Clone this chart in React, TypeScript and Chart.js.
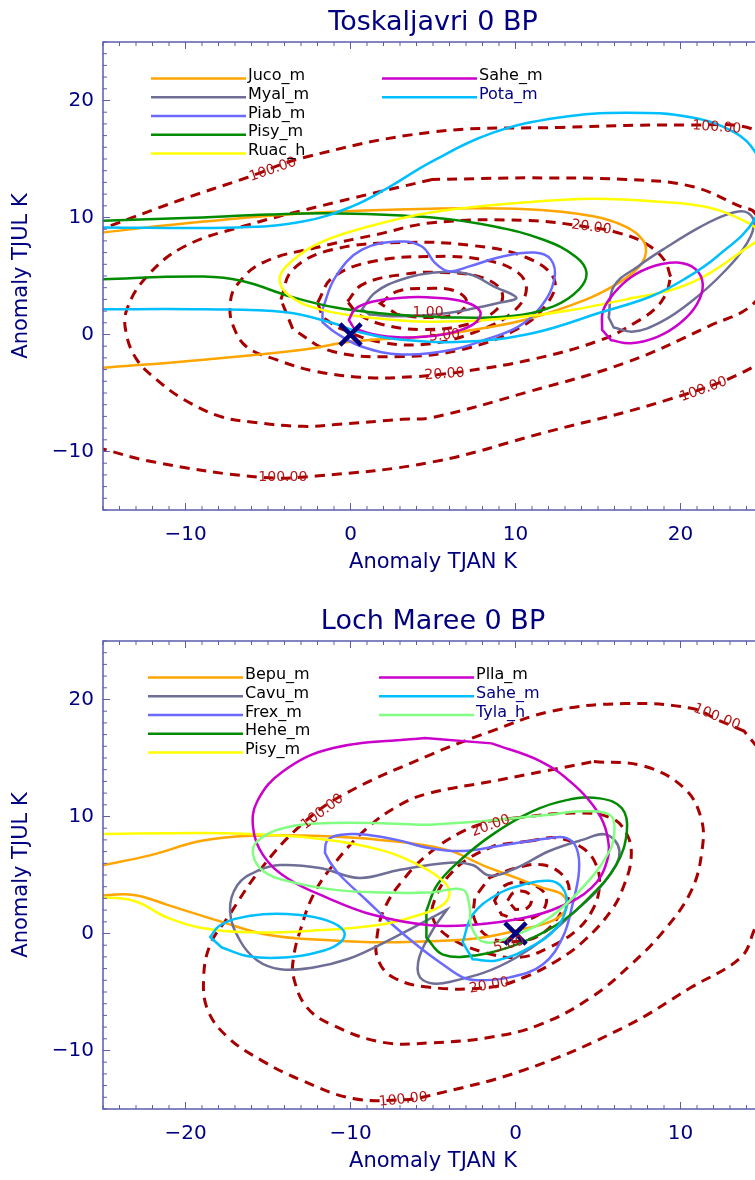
import React, { useEffect, useRef } from 'react';
import { Chart, registerables } from 'chart.js';

Chart.register(...registerables);

type Pt = [number, number];

// ---------------- TOP PANEL DATA (Toskaljavri 0 BP) ----------------
const TOP_TITLE = 'Toskaljavri 0 BP';
const TOP_X_RANGE: Pt = [-15, 25];
const TOP_Y_RANGE: Pt = [-15, 25];
const TOP_X_TICKS = [-10, 0, 10, 20];
const TOP_Y_TICKS = [-10, 0, 10, 20];

const TOP_JUCO_M: Pt[] = [[-15.5, 8.65], [-8.9, 9.65], [-2.9, 10.35], [4.9, 10.75], [10.7, 10.7], [14.7, 10.1], [16.7, 9.2], [17.7, 8.1], [17.9, 7.0], [17.5, 5.8], [16.3, 4.45], [14.3, 3.0], [10.7, 1.3], [7.65, 0.45], [4.6, -0.15], [0.1, -0.6], [-2.9, -1.3], [-8.9, -2.15], [-15.5, -2.9]];
const TOP_MYAL_M_A: Pt[] = [[0.7, 2.15], [1.5, 3.6], [3.1, 4.7], [5.1, 5.3], [7.2, 5.15], [8.7, 4.1], [10.05, 3.15], [9.15, 2.75], [7.2, 2.15], [5.1, 1.7], [3.1, 1.55], [1.15, 1.7]];
const TOP_MYAL_M_B: Pt[] = [[15.65, 1.45], [15.95, 4.1], [17.4, 5.8], [19.2, 7.5], [21.2, 9.2], [22.8, 10.25], [23.9, 10.5], [24.45, 9.65], [24.05, 7.85], [22.6, 5.3], [20.6, 2.75], [18.8, 1.05], [17.15, 0.25], [15.95, 0.6]];
const TOP_PIAB_M: Pt[] = [[-1.7, 2.15], [-0.9, 4.95], [0.7, 7.25], [3.1, 7.95], [4.35, 7.5], [5.1, 6.15], [5.95, 5.4], [7.15, 5.8], [9.15, 6.65], [11.15, 7.0], [12.15, 6.4], [12.35, 4.7], [11.55, 2.4], [10.2, 0.7], [8.15, -0.45], [6.15, -1.3], [3.1, -1.7], [0.7, -1.05], [-0.9, 0.15], [-1.7, 1.05]];
const TOP_PISY_M: Pt[] = [[-15.5, 9.7], [-10, 9.95], [-4.9, 10.25], [-0.9, 10.35], [4.95, 10.0], [8.65, 9.25], [11.7, 8.1], [13.65, 6.65], [14.3, 5.3], [13.85, 3.85], [12.3, 2.4], [9.65, 1.55], [6.65, 1.45], [4.65, 1.55], [1.95, 1.8], [-0.9, 2.3], [-3.65, 3.25], [-6.5, 4.55], [-8.9, 4.95], [-15.5, 4.7]];
const TOP_RUAC_H: Pt[] = [[24.5, 7.85], [20.7, 4.45], [16.7, 3.0], [10.65, 1.55], [4.95, 1.1], [1.15, 1.45], [-1.85, 2.15], [-3.65, 3.25], [-4.3, 4.7], [-3.65, 6.15], [-1.85, 7.85], [1.15, 9.25], [4.95, 10.45], [10.65, 11.3], [14.7, 11.6], [18.65, 11.35], [21.7, 10.85], [24.1, 9.55], [25.0, 8.6]];
const TOP_SAHE_M_A: Pt[] = [[-0.1, 1.25], [0.3, 2.2], [1.3, 2.8], [3.1, 3.15], [5.1, 3.15], [6.9, 2.8], [7.85, 2.0], [7.6, 1.05], [6.5, 0.3], [5.1, -0.1], [3.1, -0.25], [1.3, 0.05], [0.2, 0.55]];
const TOP_SAHE_M_B: Pt[] = [[15.25, 0.4], [15.3, 2.0], [15.95, 3.5], [17.0, 4.9], [18.4, 5.85], [19.8, 6.15], [20.9, 5.6], [21.35, 4.3], [21.0, 2.6], [20.0, 1.0], [18.6, -0.2], [17.0, -0.75], [15.8, -0.5]];
const TOP_POTA_M: Pt[] = [[-15.5, 9.15], [-6.9, 9.15], [-2.9, 9.65], [0.1, 10.95], [2.1, 12.4], [4.95, 14.8], [8.65, 17.25], [12.65, 18.55], [16.7, 18.95], [20.7, 18.55], [23.3, 17.25], [24.5, 15.65], [25.1, 13.25], [24.5, 9.85], [22.2, 6.65], [20.2, 4.7], [18.2, 3.25], [15.2, 1.9], [11.15, 0.15], [7.15, -0.6], [3.1, -0.45], [0.7, 0.15], [-1.25, 1.05], [-3.9, 1.9], [-8.9, 2.15], [-15.5, 2.15]];

const TOP_C100: Pt[] = [[-15.5, 8.8], [-10.4, 11.45], [-6.3, 13.4], [-2.9, 15.1], [4.95, 17.3], [12.8, 17.7], [20.5, 17.9], [24.5, 17.5], [26.5, 15], [27.5, 7], [26.5, 0], [24.5, -2.7], [19.3, -5.55], [11.7, -8.4], [4.95, -10.9], [-2.1, -12.1], [-5.5, -12.2], [-11.9, -10.9], [-15.5, -9.6]];
const TOP_C50: Pt[] = [[4.95, 13.25], [-0.9, 11.3], [-6.5, 9.25], [-10.1, 7.5], [-12.35, 4.95], [-13.55, 2.15], [-13.6, 0.15], [-12.95, -2.15], [-11.75, -3.85], [-10.1, -5.55], [-7.9, -7.0], [-5.9, -7.5], [-2.9, -7.85], [-0.9, -7.7], [3.15, -7.25], [4.95, -7.1], [10.65, -4.95], [16.7, -2.4], [21.7, 0.7], [24.5, 2.75], [25.8, 6.5], [24.5, 10.4], [23.7, 10.9], [20.7, 12.65], [16.7, 13.25], [10.65, 13.4]];
const TOP_C20: Pt[] = [[19.4, 4.95], [19.0, 6.4], [17.8, 7.85], [16.2, 8.7], [14.6, 9.15], [10.65, 9.75], [4.95, 9.55], [1.6, 8.55], [-1.85, 7.5], [-5.3, 6.15], [-6.95, 4.1], [-7.3, 2.4], [-7.1, 0.7], [-6.3, -1.05], [-4.5, -2.15], [-2.1, -3.15], [1.15, -3.7], [3.9, -3.6], [5.5, -3.4], [6.9, -3.15], [10.95, -2.15], [15.2, -0.45], [17.6, 1.3], [18.6, 2.4], [19.2, 3.6]];
const TOP_C10: Pt[] = [[-4.22, 2.99], [-3.49, 5.56], [-1.08, 7.26], [3.13, 7.86], [7.35, 7.61], [10.66, 6.58], [12.35, 4.7], [11.87, 2.56], [10.06, 0.43], [6.75, -1.28], [3.13, -1.88], [-1.08, -1.45], [-3.49, 0.43]];
const TOP_C5: Pt[] = [[-1.99, 2.74], [-1.08, 4.87], [1.33, 6.24], [4.94, 6.67], [7.95, 6.41], [10.06, 5.38], [10.66, 3.85], [9.88, 1.97], [7.95, 0.43], [4.94, -0.77], [1.93, -0.68], [-0.48, 0.43], [-1.69, 1.45]];
const TOP_C2: Pt[] = [[-0.18, 2.82], [0.72, 4.27], [3.13, 5.13], [5.54, 5.3], [7.95, 4.87], [9.16, 3.68], [8.86, 2.14], [7.05, 0.85], [4.34, 0.43], [1.93, 0.85], [0.42, 1.71]];
const TOP_C1: Pt[] = [[1.81, 2.65], [2.83, 3.68], [4.64, 3.93], [6.27, 3.76], [7.05, 2.82], [6.45, 1.79], [4.64, 1.45], [2.83, 1.71]];

const TOP_LABEL_TEXT = ['100.00', '100.00', '100.00', '100.00', '20.00', '20.00', '1.00', '5.00'];
const TOP_LABEL_POS: Pt[] = [[-4.7, 14.1], [22.2, 17.7], [-4.1, -12.25], [21.4, -4.7], [14.6, 9.15], [5.7, -3.4], [4.7, 1.9], [5.7, -0.1]];
const TOP_LABEL_ANGLE = [-19, 4, 0, -20, 8, -4, 0, -5];

// ---------------- BOTTOM PANEL DATA (Loch Maree 0 BP) ----------------
const BOT_TITLE = 'Loch Maree 0 BP';
const BOT_X_RANGE: Pt = [-25, 15];
const BOT_Y_RANGE: Pt = [-15, 25];
const BOT_X_TICKS = [-20, -10, 0, 10];
const BOT_Y_TICKS = [-10, 0, 10, 20];

const BOT_BEPU_M: Pt[] = [[-25.5, 5.7], [-22.1, 6.7], [-19.1, 7.9], [-16.05, 8.35], [-12.25, 8.35], [-8.2, 8.0], [-4.15, 7.15], [-2.0, 5.85], [0.05, 4.75], [1.65, 3.9], [2.85, 3.3], [3.1, 2.2], [2.25, 1.1], [0.05, 0.25], [-2.0, -0.35], [-4.0, -0.6], [-8.05, -0.75], [-11.05, -0.6], [-15.05, -0.1], [-18.05, 1.1], [-21.1, 2.45], [-23.15, 3.3], [-25.5, 3.2]];
const BOT_CAVU_M: Pt[] = [[-4.15, 2.05], [-5.1, 0.1], [-5.9, -2.45], [-5.6, -4.0], [-4.0, -4.15], [0.05, -2.05], [4.05, 2.45], [5.7, 5.0], [6.3, 7.05], [5.5, 8.45], [4.05, 8.0], [2.05, 7.05], [0.05, 5.6], [-1.55, 4.95], [-2.6, 5.85], [-4.0, 6.05], [-7.0, 5.45], [-9.45, 4.75], [-11.85, 5.6], [-14.25, 5.85], [-15.65, 5.35], [-16.85, 4.15], [-17.3, 1.95], [-16.7, -0.6], [-15.65, -2.3], [-14.25, -3.05], [-12.25, -2.9], [-10.2, -2.2], [-8.2, -0.95], [-6.2, 0.5]];
const BOT_FREX_M: Pt[] = [[-11.55, 6.9], [-11.45, 7.85], [-10.9, 8.35], [-10.0, 8.5], [-9.0, 8.45], [-7.2, 8.0], [-5.2, 7.3], [-3.2, 7.05], [-0.95, 7.5], [2.05, 8.15], [3.1, 8.15], [3.7, 7.3], [3.85, 5.35], [3.45, 2.45], [2.85, -0.35], [1.65, -2.65], [-0.35, -3.75], [-2.35, -4.0], [-3.2, -3.75], [-4.4, -2.65], [-5.8, -1.2], [-7.45, 0.75], [-9.0, 2.8], [-10.65, 5.0], [-11.25, 6.1]];
const BOT_HEHE_M: Pt[] = [[-5.4, 1.95], [-4.75, 4.15], [-3.4, 6.2], [-1.4, 8.45], [1.05, 10.45], [3.1, 11.4], [5.1, 11.55], [6.45, 10.7], [6.75, 8.75], [6.1, 5.85], [4.45, 3.05], [2.5, 0.75], [0.05, -0.95], [-2.35, -1.85], [-4.4, -1.8], [-5.4, -0.35]];
const BOT_PISY_M: Pt[] = [[-25.5, 8.5], [-19.1, 8.6], [-16.05, 8.5], [-12.25, 8.15], [-8.2, 7.15], [-5.8, 5.8], [-4.4, 4.5], [-4.0, 3.5], [-4.4, 2.45], [-5.8, 1.6], [-8.2, 0.75], [-12.25, 0.25], [-16.05, 0.1], [-19.1, 0.5], [-21.1, 1.35], [-23.15, 2.8], [-25.5, 3.1]];
const BOT_PLLA_M: Pt[] = [[-5.5, 16.7], [-11.05, 15.85], [-14.1, 13.85], [-15.65, 11.3], [-15.9, 9.0], [-15.3, 6.7], [-13.85, 4.75], [-11.4, 3.05], [-8.65, 1.6], [-5.2, 0.7], [-2.5, 0.75], [0.55, 1.35], [2.55, 2.2], [4.6, 3.9], [5.55, 6.2], [5.55, 8.45], [4.95, 10.45], [3.55, 12.7], [1.55, 14.7], [-1.45, 16.25]];
const BOT_SAHE_M_A: Pt[] = [[-18.5, -0.3], [-18.0, 0.6], [-17.0, 1.25], [-15.3, 1.65], [-13.25, 1.6], [-11.4, 1.1], [-10.4, 0.2], [-10.6, -0.75], [-12.0, -1.6], [-14.0, -2.05], [-16.2, -1.95], [-17.8, -1.2]];
const BOT_SAHE_M_B: Pt[] = [[-3.2, -0.75], [-2.6, 1.6], [-1.15, 3.3], [0.4, 4.15], [2.05, 4.5], [2.85, 3.9], [3.1, 2.45], [2.5, 0.5], [0.85, -1.2], [-1.15, -2.3], [-2.6, -2.2]];
const BOT_TYLA_H: Pt[] = [[-5.2, 9.3], [-11.05, 9.45], [-14.1, 9.0], [-15.65, 7.9], [-15.9, 6.7], [-15.3, 5.35], [-13.85, 4.5], [-11.05, 3.75], [-8.05, 3.5], [-5.2, 3.5], [-3.2, 3.75], [-2.8, 2.45], [-2.65, 0.5], [-1.85, -0.75], [0.05, -0.1], [2.05, 1.35], [4.05, 3.9], [5.7, 7.05], [6.0, 9.0], [5.7, 10.15], [4.05, 10.45], [2.05, 10.15], [-2.0, 9.6]];

const BOT_C100: Pt[] = [[13.85, 17.3], [12.35, 18.2], [10.65, 19.25], [6.6, 19.65], [2.2, 19.0], [-1.45, 17.3], [-5.2, 15.25], [-10.45, 11.85], [-13.05, 9.2], [-15.5, 5.4], [-17.45, 1.35], [-18.5, -0.95], [-18.9, -3.75], [-18.65, -6.55], [-17.45, -8.85], [-15.45, -10.8], [-13.05, -12.5], [-9.85, -14.1], [-6.7, -14.2], [-5.5, -13.95], [0.55, -11.65], [6.6, -8.0], [10.65, -4.6], [13.65, -2.05], [14.45, 0.25], [16.0, 6.0], [15.8, 14.0]];
const BOT_C50: Pt[] = [[4.75, 14.7], [7.8, 14.3], [10.2, 12.45], [11.25, 9.85], [11.3, 7.05], [10.65, 3.65], [9.0, 0.25], [7.0, -2.65], [4.6, -5.45], [1.55, -7.75], [-1.45, -8.85], [-5.2, -9.35], [-8.05, -9.3], [-11.05, -7.85], [-12.65, -6.3], [-13.45, -3.75], [-13.45, -2.05], [-13.05, 0.25], [-12.25, 3.3], [-11.05, 5.85], [-9.0, 9.0], [-7.0, 11.0], [-5.2, 12.0], [-1.45, 13.0], [0.55, 13.55]];
const BOT_C20: Pt[] = [[-0.06, 9.87], [3.56, 10.3], [5.8, 9.87], [6.77, 8.43], [7.01, 6.47], [6.59, 4.17], [5.8, 1.96], [4.17, -0.6], [2.54, -2.3], [0.54, -3.74], [-1.57, -4.6], [-5.2, -4.6], [-7.43, -3.74], [-8.34, -2.21], [-8.4, -0.34], [-7.92, 2.21], [-6.7, 4.77], [-5.2, 6.89], [-3.38, 8.6], [-1.57, 9.62]];
const BOT_C10: Pt[] = [[0.85, 7.9], [2.48, 8.17], [4.05, 7.32], [4.89, 5.87], [5.08, 3.91], [4.65, 1.96], [3.69, 0.26], [2.05, -1.19], [0.24, -2.04], [-1.87, -1.62], [-3.99, -0.34], [-5.02, 1.36], [-4.77, 3.32], [-3.99, 5.02], [-2.78, 6.47], [-1.15, 7.57]];
const BOT_C5: Pt[] = [[-1.57, 4.77], [0.06, 5.62], [1.63, 5.87], [2.84, 5.02], [3.26, 3.66], [2.84, 1.96], [1.63, 0.0], [0.06, -0.68], [-1.57, -0.34], [-2.48, 1.19], [-2.48, 3.06]];
const BOT_C2: Pt[] = [[-1.27, 2.81], [-0.66, 4.09], [0.54, 4.34], [1.63, 3.66], [1.87, 2.64], [1.33, 1.53], [0.24, 1.19], [-0.85, 1.62]];
const BOT_C1: Pt[] = [[-0.48, 2.81], [-0.12, 3.49], [0.6, 3.57], [0.97, 2.98], [0.73, 2.21], [0.0, 2.04]];

const BOT_LABEL_TEXT = ['100.00', '100.00', '100.00', '20.00', '20.00', '5.00'];
const BOT_LABEL_POS: Pt[] = [[-11.7, 10.4], [12.2, 18.5], [-6.8, -14.2], [-1.5, 9.2], [-1.6, -4.45], [-0.4, -0.95]];
const BOT_LABEL_ANGLE = [-37, 22, -6, -20, -10, -15];

// ---------------- STYLE ----------------
const FONT = "'DejaVu Sans', 'Liberation Sans', sans-serif";
const NAVY = '#000080';
const FRAME = '#5c5cae';
const CONTOUR = '#a80000';
const CONTOUR_TEXT = '#b41414';
const C_ORANGE = '#ffa500';
const C_SLATE = '#6e6e96';
const C_BLUE = '#6a6aff';
const C_GREEN = '#008b00';
const C_YELLOW = '#ffff00';
const C_MAGENTA = '#cc00cc';
const C_CYAN = '#00bfff';
const C_LGREEN = '#80ff80';

interface SeriesDef { name: string; color: string; textColor: string; parts: Pt[][]; closed: boolean[] }
interface PanelDef {
  title: string; xRange: Pt; yRange: Pt; xTicks: number[]; yTicks: number[];
  series: SeriesDef[]; legendCols: number[]; contours: { pts: Pt[]; closed: boolean }[];
  labelText: string[]; labelPos: Pt[]; labelAngle: number[]; legendX: number;
}

const TOP_PANEL: PanelDef = {
  title: TOP_TITLE, xRange: TOP_X_RANGE, yRange: TOP_Y_RANGE, xTicks: TOP_X_TICKS, yTicks: TOP_Y_TICKS,
  series: [
    { name: 'Juco_m', color: C_ORANGE, textColor: '#000', parts: [TOP_JUCO_M], closed: [false] },
    { name: 'Myal_m', color: C_SLATE, textColor: '#000', parts: [TOP_MYAL_M_A, TOP_MYAL_M_B], closed: [true, true] },
    { name: 'Piab_m', color: C_BLUE, textColor: '#000', parts: [TOP_PIAB_M], closed: [true] },
    { name: 'Pisy_m', color: C_GREEN, textColor: '#000', parts: [TOP_PISY_M], closed: [false] },
    { name: 'Ruac_h', color: C_YELLOW, textColor: '#000', parts: [TOP_RUAC_H], closed: [true] },
    { name: 'Sahe_m', color: C_MAGENTA, textColor: '#000', parts: [TOP_SAHE_M_A, TOP_SAHE_M_B], closed: [true, true] },
    { name: 'Pota_m', color: C_CYAN, textColor: NAVY, parts: [TOP_POTA_M], closed: [false] },
  ],
  legendCols: [5, 2],
  contours: [
    { pts: TOP_C100, closed: false }, { pts: TOP_C50, closed: true }, { pts: TOP_C20, closed: true },
    { pts: TOP_C10, closed: true }, { pts: TOP_C5, closed: true }, { pts: TOP_C2, closed: true }, { pts: TOP_C1, closed: true },
  ],
  labelText: TOP_LABEL_TEXT, labelPos: TOP_LABEL_POS, labelAngle: TOP_LABEL_ANGLE, legendX: 48,
};

const BOT_PANEL: PanelDef = {
  title: BOT_TITLE, xRange: BOT_X_RANGE, yRange: BOT_Y_RANGE, xTicks: BOT_X_TICKS, yTicks: BOT_Y_TICKS,
  series: [
    { name: 'Bepu_m', color: C_ORANGE, textColor: '#000', parts: [BOT_BEPU_M], closed: [false] },
    { name: 'Cavu_m', color: C_SLATE, textColor: '#000', parts: [BOT_CAVU_M], closed: [true] },
    { name: 'Frex_m', color: C_BLUE, textColor: '#000', parts: [BOT_FREX_M], closed: [true] },
    { name: 'Hehe_m', color: C_GREEN, textColor: '#000', parts: [BOT_HEHE_M], closed: [true] },
    { name: 'Pisy_m', color: C_YELLOW, textColor: '#000', parts: [BOT_PISY_M], closed: [false] },
    { name: 'Plla_m', color: C_MAGENTA, textColor: '#000', parts: [BOT_PLLA_M], closed: [true] },
    { name: 'Sahe_m', color: C_CYAN, textColor: NAVY, parts: [BOT_SAHE_M_A, BOT_SAHE_M_B], closed: [true, true] },
    { name: 'Tyla_h', color: C_LGREEN, textColor: NAVY, parts: [BOT_TYLA_H], closed: [true] },
  ],
  legendCols: [5, 3],
  contours: [
    { pts: BOT_C100, closed: true }, { pts: BOT_C50, closed: true }, { pts: BOT_C20, closed: true },
    { pts: BOT_C10, closed: true }, { pts: BOT_C5, closed: true }, { pts: BOT_C2, closed: true }, { pts: BOT_C1, closed: true },
  ],
  labelText: BOT_LABEL_TEXT, labelPos: BOT_LABEL_POS, labelAngle: BOT_LABEL_ANGLE, legendX: 45,
};

const toXY = (pts: Pt[]) => pts.map(([x, y]) => ({ x, y }));
const fmtTick = (v: number) => (v < 0 ? '\u2212' + Math.abs(v) : String(v));

// closes smooth loops for datasets flagged "closed"
const loopPlugin = {
  id: 'loopLines',
  beforeDatasetsDraw(chart: any) {
    chart.data.datasets.forEach((ds: any, i: number) => {
      if (!ds.closedLoop) return;
      const line = chart.getDatasetMeta(i).dataset;
      if (!line) return;
      line._loop = true;
      line._fullLoop = true;
      delete line._segments;
      delete line._path;
      line._pointsUpdated = false;
    });
  },
};

function makePanelPlugin(p: PanelDef) {
  return {
    id: 'panelDecor',
    afterDatasetsDraw(chart: any) {
      const { ctx, chartArea: a, scales } = chart;
      const xs = scales.x, ys = scales.y;
      ctx.save();
      // contour labels
      ctx.fillStyle = CONTOUR_TEXT;
      ctx.font = `14px ${FONT}`;
      ctx.textAlign = 'center';
      ctx.textBaseline = 'middle';
      p.labelText.forEach((t, i) => {
        const px = xs.getPixelForValue(p.labelPos[i][0]);
        const py = ys.getPixelForValue(p.labelPos[i][1]);
        ctx.save();
        ctx.translate(px, py);
        ctx.rotate((p.labelAngle[i] * Math.PI) / 180);
        ctx.fillText(t, 0, 0);
        ctx.restore();
      });
      // frame
      ctx.strokeStyle = FRAME;
      ctx.lineWidth = 1.5;
      ctx.strokeRect(a.left, a.top, a.right - a.left, a.bottom - a.top);
      ctx.lineWidth = 1;
      ctx.beginPath();
      for (let v = Math.ceil(p.xRange[0]); v <= p.xRange[1]; v++) {
        const px = xs.getPixelForValue(v);
        const len = v % 10 === 0 ? 7 : 4;
        ctx.moveTo(px, a.bottom); ctx.lineTo(px, a.bottom - len);
        ctx.moveTo(px, a.top); ctx.lineTo(px, a.top + len);
      }
      for (let v = Math.ceil(p.yRange[0]); v <= p.yRange[1]; v++) {
        const py = ys.getPixelForValue(v);
        const len = v % 10 === 0 ? 7 : 4;
        ctx.moveTo(a.left, py); ctx.lineTo(a.left + len, py);
        ctx.moveTo(a.right, py); ctx.lineTo(a.right - len, py);
      }
      ctx.stroke();
      // legend
      let k = 0;
      ctx.font = `16px ${FONT}`;
      ctx.textAlign = 'left';
      ctx.textBaseline = 'alphabetic';
      p.legendCols.forEach((n, col) => {
        for (let r = 0; r < n; r++, k++) {
          const s = p.series[k];
          const x0 = a.left + p.legendX + col * 231;
          const y0 = a.top + 36.5 + r * 18.75;
          ctx.strokeStyle = s.color;
          ctx.lineWidth = 2.5;
          ctx.beginPath();
          ctx.moveTo(x0, y0); ctx.lineTo(x0 + 95, y0);
          ctx.stroke();
          ctx.fillStyle = s.textColor;
          ctx.fillText(s.name, x0 + 97, y0 + 1.5);
        }
      });
      // title
      ctx.fillStyle = NAVY;
      ctx.font = `27px ${FONT}`;
      ctx.textAlign = 'center';
      ctx.fillText(p.title, (a.left + a.right) / 2, a.top - 12);
      ctx.restore();
    },
  };
}

function buildConfig(p: PanelDef): any {
  const datasets: any[] = [];
  datasets.push({
    data: [{ x: 0, y: 0 }], showLine: false, pointStyle: 'crossRot', pointRadius: 15,
    pointBorderWidth: 4.5, pointBorderColor: NAVY, pointBackgroundColor: NAVY,
  });
  [...p.series].reverse().forEach((s) => {
    s.parts.forEach((pts, j) => {
      datasets.push({
        label: s.name, data: toXY(pts), showLine: true, closedLoop: s.closed[j],
        borderColor: s.color, borderWidth: 2.5, pointRadius: 0, tension: 0.4,
        capBezierPoints: false, fill: false,
      });
    });
  });
  p.contours.forEach((c) => {
    datasets.push({
      data: toXY(c.pts), showLine: true, closedLoop: c.closed, borderColor: CONTOUR,
      borderWidth: 3, borderDash: [10, 7], pointRadius: 0, tension: 0.4,
      capBezierPoints: false, fill: false,
    });
  });
  const tickFont = { family: FONT, size: 20 };
  const titleFont = { family: FONT, size: 21 };
  return {
    type: 'scatter',
    data: { datasets },
    options: {
      animation: false, responsive: false, devicePixelRatio: 1,
      layout: { autoPadding: false, padding: { top: 42, left: 0, right: 0, bottom: 0 } },
      plugins: { legend: { display: false }, tooltip: { enabled: false }, title: { display: false } },
      scales: {
        x: {
          type: 'linear', min: p.xRange[0], max: p.xRange[1],
          afterBuildTicks: (s: any) => { s.ticks = p.xTicks.map((v) => ({ value: v })); },
          afterFit: (s: any) => { s.height = 80; s.paddingLeft = 0; s.paddingRight = 0; s.paddingTop = 0; s.paddingBottom = 0; },
          grid: { display: false, drawTicks: false }, border: { display: false },
          ticks: { color: NAVY, font: tickFont, padding: 13, maxRotation: 0, autoSkip: false, callback: (v: number) => fmtTick(v) },
          title: { display: true, text: 'Anomaly TJAN K', color: NAVY, font: titleFont, padding: { top: 0, bottom: 15 } },
        },
        y: {
          type: 'linear', min: p.yRange[0], max: p.yRange[1],
          afterBuildTicks: (s: any) => { s.ticks = p.yTicks.map((v) => ({ value: v })); },
          afterFit: (s: any) => { s.width = 103; s.paddingLeft = 0; s.paddingRight = 0; s.paddingTop = 0; s.paddingBottom = 0; },
          grid: { display: false, drawTicks: false }, border: { display: false },
          ticks: { color: NAVY, font: tickFont, padding: 9, autoSkip: false, callback: (v: number) => fmtTick(v) },
          title: { display: true, text: 'Anomaly TJUL K', color: NAVY, font: titleFont, padding: { top: 9, bottom: 0 } },
        },
      },
    },
    plugins: [loopPlugin, makePanelPlugin(p)],
  };
}

function Panel({ def }: { def: PanelDef }) {
  const ref = useRef<HTMLCanvasElement>(null);
  useEffect(() => {
    const chart = new Chart(ref.current as HTMLCanvasElement, buildConfig(def));
    return () => chart.destroy();
  }, [def]);
  return <canvas ref={ref} width={763} height={590} style={{ display: 'block', width: 763, height: 590 }} />;
}

export default function App() {
  return (
    <div style={{ position: 'absolute', left: 0, top: 0, width: 755, height: 1180, overflow: 'hidden', background: '#fff' }}>
      <div style={{ position: 'absolute', left: 0, top: 0 }}>
        <Panel def={TOP_PANEL} />
      </div>
      <div style={{ position: 'absolute', left: 0, top: 599 }}>
        <Panel def={BOT_PANEL} />
      </div>
    </div>
  );
}
